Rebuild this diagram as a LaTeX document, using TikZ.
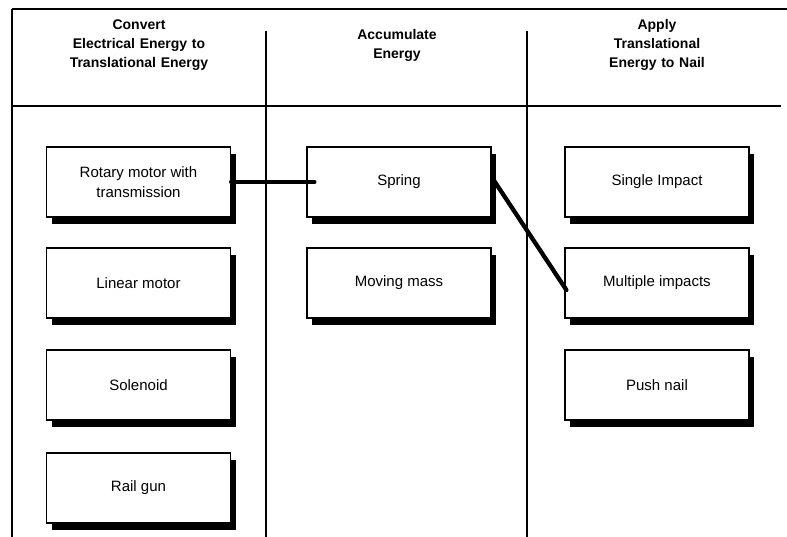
\documentclass[tikz,border=0pt]{standalone}
\usepackage{fontspec}
\setmainfont{Liberation Sans}
\usetikzlibrary{shadows,calc}
\begin{document}
\begin{tikzpicture}[x=1pt,y=-1pt,
  rule/.style={line width=1.3pt},
  heading/.style={font=\fontsize{14}{19}\selectfont\bfseries, align=center, text width=240pt},
  option/.style={draw, line width=1.2pt, fill=white,
    minimum width=184pt, minimum height=70pt, inner sep=0pt,
    align=center, font=\fontsize{15}{20}\selectfont,
    drop shadow={shadow xshift=5pt, shadow yshift=-7pt, fill=black, opacity=1}},
  link/.style={line width=4.3pt, line cap=round}]
\useasboundingbox (0,0) rectangle (787,537);

% frame and column rules
\draw[rule] (12,9) -- (787,9);
\draw[rule] (12,9) -- (12,537);
\draw[line width=2pt] (12,106) -- (781,106);
\draw[rule] (266,31) -- (266,537);
\draw[rule] (527,31) -- (527,537);

% column headings
\node[heading] (h1) at (139,45) {Convert\\Electrical Energy to\\Translational Energy};
\node[heading] (h2) at (397,45) {Accumulate\\Energy};
\node[heading] (h3) at (657,45) {Apply\\Translational\\Energy to Nail};

% first column: conversion
\node[option] (rotary) at (138.5,182) {Rotary motor with\\transmission};
\node[option] (linear) at (138.5,283) {Linear motor};
\node[option] (solenoid) at (138.5,385) {Solenoid};
\node[option] (railgun) at (138.5,488) {Rail gun};

% second column: storage
\node[option] (spring) at (399,182) {Spring};
\node[option] (mass) at (399,283) {Moving mass};

% third column: delivery
\node[option] (single) at (657,182) {Single Impact};
\node[option] (multiple) at (657,283) {Multiple impacts};
\node[option] (push) at (657,385) {Push nail};

% chosen combination
\coordinate (springin) at ($(spring.west)+(8,0)$);
\coordinate (springout) at ($(spring.east)+(2,-2)$);
\coordinate (multiin) at ($(multiple.west)+(2,7)$);
\draw[link] (rotary.east) -- (springin);
\draw[link] (springout) -- (multiin);
\end{tikzpicture}
\end{document}
